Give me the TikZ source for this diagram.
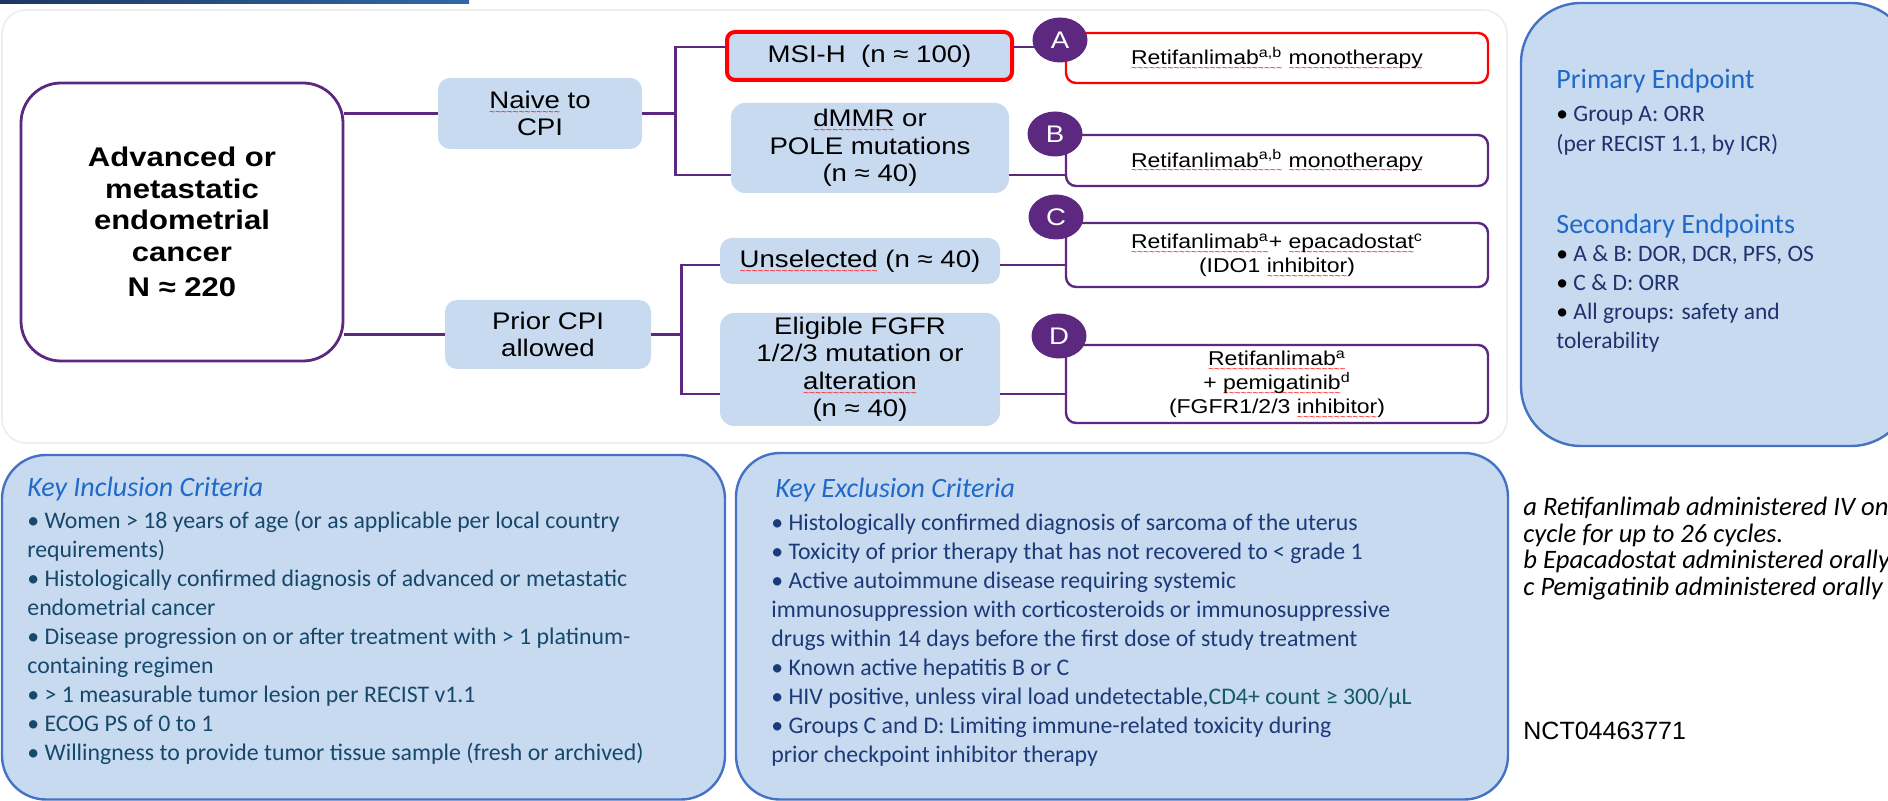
\documentclass[tikz,border=0pt]{standalone}
\usepackage{fontspec}
\usepackage{xcolor}
\usepackage{tikz}
\usetikzlibrary{calc,shapes.geometric}

\setmainfont{Carlito}
\newfontfamily\arialfont[FakeStretch=1.15]{Liberation Sans}
\newfontfamily\arialplain{Liberation Sans}

\definecolor{cpurple}{RGB}{92,40,128}
\definecolor{cfill}{RGB}{200,218,240}
\definecolor{cborder}{RGB}{68,114,196}
\definecolor{chead}{RGB}{31,106,200}
\definecolor{cnavy}{RGB}{30,50,110}
\definecolor{cinc}{RGB}{22,72,108}
\definecolor{cexc}{RGB}{28,58,120}
\definecolor{cteal}{RGB}{20,90,105}
\definecolor{cred}{RGB}{255,0,0}
\definecolor{cbarL}{RGB}{30,55,95}
\definecolor{cbarR}{RGB}{48,105,165}

% red spell-check squiggle
\newsavebox\spellbox
\newcommand{\spell}[1]{\sbox\spellbox{#1}\rlap{\raisebox{-3.4pt}[0pt][0pt]{\textcolor{red}{\hbox to \wd\spellbox{\xleaders\hbox{\fontsize{5}{5}\arialplain\char126}\hfil}}}}\usebox\spellbox}

\begin{document}
\begin{tikzpicture}[x=0.5pt, y=-0.5pt,
  link/.style={cpurple, line width=1.3pt},
  pale/.style={fill=cfill, rounded corners=6pt, inner sep=0pt, align=center,
    font=\arialfont\fontsize{12}{13.75}\selectfont},
  result/.style={draw=cpurple, fill=white, line width=1.2pt, rounded corners=5pt,
    inner sep=0pt, minimum width=211pt, align=center,
    font=\arialfont\fontsize{10}{12}\selectfont},
  grpmark/.style={ellipse, fill=cpurple, text=white, inner sep=0pt,
    minimum width=27.5pt, minimum height=22.5pt,
    font=\arialfont\fontsize{12}{14}\selectfont},
  infobox/.style={draw=cborder, fill=cfill, line width=1.2pt},
  crit/.style={anchor=north west, inner sep=0pt, align=left,
    font=\fontsize{11.9}{14.5}\selectfont},
  crithead/.style={anchor=base west, inner sep=0pt, text=chead,
    font=\itshape\fontsize{14}{17}\selectfont}
]
\useasboundingbox (0,0) rectangle (1888,801);
\clip (0,0) rectangle (1888,801);

%Title bar and frame
\shade[left color=cbarL, right color=cbarR] (0,0) rectangle (469,4);
\draw[black!7, line width=0.8pt, rounded corners=12pt] (2,10) rectangle (1507,443);

%Cohort
\node[draw=cpurple, line width=1.4pt, rounded corners=20pt, minimum width=161pt,
  minimum height=139pt, align=center,
  font=\arialfont\bfseries\fontsize{13.5}{15.75}\selectfont] (cohort) at (182,222)
  {Advanced or\\metastatic\\endometrial\\cancer\\[1.75pt]N ≈ 220};

%Strata
\node[pale, minimum width=102pt, minimum height=35.5pt] (naive) at (540,113.5) {\spell{Naive} to\\CPI};
\node[pale, minimum width=103pt, minimum height=34.5pt] (prior) at (548,334.5) {Prior CPI\\allowed};

%Subgroups
\node[pale, draw=cred, line width=2pt, rounded corners=4pt, minimum width=142.5pt,
  minimum height=24pt] (msi) at (869.5,56) {MSI-H~~(n ≈ 100)};
\node[pale, rounded corners=7pt, minimum width=139pt, minimum height=45pt] (dmmr) at (870,148)
  {\spell{dMMR} or\\POLE mutations\\(n ≈ 40)};
\node[pale, minimum width=140pt, minimum height=23pt] (unsel) at (860,261) {\spell{Unselected} (n ≈ 40)};
\node[pale, rounded corners=7pt, minimum width=140pt, minimum height=56.5pt] (elig) at (860,369.5)
  {Eligible FGFR\\1/2/3 mutation or\\\spell{alteration}\\(n ≈ 40)};

%Treatments
\node[result, draw=cred, minimum height=25pt] (resA) at (1277,58)
  {\spell{Retifanlimab\textsuperscript{a,b}} \spell{monotherapy}};
\node[result, minimum height=25.5pt] (resB) at (1277,160.5)
  {\spell{Retifanlimab\textsuperscript{a,b}} \spell{monotherapy}};
\node[result, minimum height=32pt] (resC) at (1277,255)
  {\spell{Retifanlimab\textsuperscript{a}}+ \spell{epacadostat}\textsuperscript{c}\\(IDO1 \spell{inhibitor})};
\node[result, minimum height=39pt] (resD) at (1277,384)
  {\spell{Retifanlimab\textsuperscript{a}}\\+ \spell{pemigatinib}\textsuperscript{d}\\(FGFR1/2/3 \spell{inhibitor})};

%Connectors
\draw[link] (cohort.east |- naive.west) -- (naive.west);
\draw[link] (cohort.east |- prior.west) -- (prior.west);
\draw[link] (naive.east) -- ++(33,0) coordinate (naivefork);
\draw[link] ([yshift=4.5pt]msi.west) -| (naivefork) |- ([yshift=-13.5pt]dmmr.west);
\draw[link] (prior.east) -- ++(30,0) coordinate (priorfork);
\draw[link] ([yshift=-2pt]unsel.west) -| (priorfork) |- ([yshift=-12.25pt]elig.west);
\draw[link] ([yshift=4.5pt]msi.east) coordinate (msiout) -- (msiout -| resA.west);
\draw[link] ([yshift=-13.5pt]dmmr.east) coordinate (dmmrout) -- (dmmrout -| resB.west);
\draw[link] ([yshift=-2pt]unsel.east) coordinate (unselout) -- (unselout -| resC.west);
\draw[link] ([yshift=-12.25pt]elig.east) coordinate (eligout) -- (eligout -| resD.west);

%Group markers
\node[grpmark] (grpA) at (1060,40) {A};
\node[grpmark] (grpB) at (1055,134) {B};
\node[grpmark] (grpC) at (1056,217) {C};
\node[grpmark] (grpD) at (1059,336) {D};

%Endpoints
\draw[infobox, rounded corners=30pt] (1521,3) rectangle (1911,446);
\node[crithead, font=\fontsize{14}{17}\selectfont] (primhead) at (1556,89) {Primary Endpoint};
\node[crit, text=cnavy, font=\fontsize{11.75}{15}\selectfont] (primlist) at (1556,105.5)
  {{\color{black}•} Group A: ORR\\(per RECIST 1.1, by ICR)};
\node[crithead, font=\fontsize{14}{17}\selectfont] (sechead) at (1556,234) {Secondary Endpoints};
\node[crit, text=cnavy, font=\fontsize{11.75}{14.5}\selectfont] (seclist) at (1556,245.5)
  {{\color{black}•} A \& B: DOR, DCR, PFS, OS\\{\color{black}•} C \& D: ORR\\{\color{black}•} All groups: safety and\\tolerability};

%Criteria
\draw[infobox, rounded corners=22pt] (2,455) rectangle (725,799.5);
\draw[infobox, rounded corners=22pt] (736,453) rectangle (1508,799.5);
\node[crithead] (inchead) at (27,496) {Key Inclusion Criteria};
\node[crit, text=cinc] (inclist) at (27,510.5)
  {• Women > 18 years of age (or as applicable per local country\\
   requirements)\\
   • Histologically confirmed diagnosis of advanced or metastatic\\
   endometrial cancer\\
   • Disease progression on or after treatment with > 1 platinum-\\
   containing regimen\\
   • > 1 measurable tumor lesion per RECIST v1.1\\
   • ECOG PS of 0 to 1\\
   • Willingness to provide tumor tissue sample (fresh or archived)};
\node[crithead] (exchead) at (775,497) {Key Exclusion Criteria};
\node[crit, text=cexc] (exclist) at (771,513.5)
  {• Histologically confirmed diagnosis of sarcoma of the uterus\\
   • Toxicity of prior therapy that has not recovered to < grade 1\\
   • Active autoimmune disease requiring systemic\\
   immunosuppression with corticosteroids or immunosuppressive\\
   drugs within 14 days before the first dose of study treatment\\
   • Known active hepatitis B or C\\
   • HIV positive, unless viral load undetectable,{\color{cteal}CD4+ count ≥ 300/µL}\\
   • Groups C and D: Limiting immune-related toxicity during\\
   prior checkpoint inhibitor therapy};

%Footnotes
\node[anchor=north west, inner sep=0pt, align=left, font=\itshape\fontsize{13.3}{13.25}\selectfont] (notes) at (1523,497)
  {a Retifanlimab administered IV on\\cycle for up to 26 cycles.\\b Epacadostat administered orally\\c Pemigatinib administered orally};
\node[anchor=base west, inner sep=0pt, font=\arialplain\fontsize{12.5}{15}\selectfont] (nct) at (1523,739) {NCT04463771};
\end{tikzpicture}
\end{document}
